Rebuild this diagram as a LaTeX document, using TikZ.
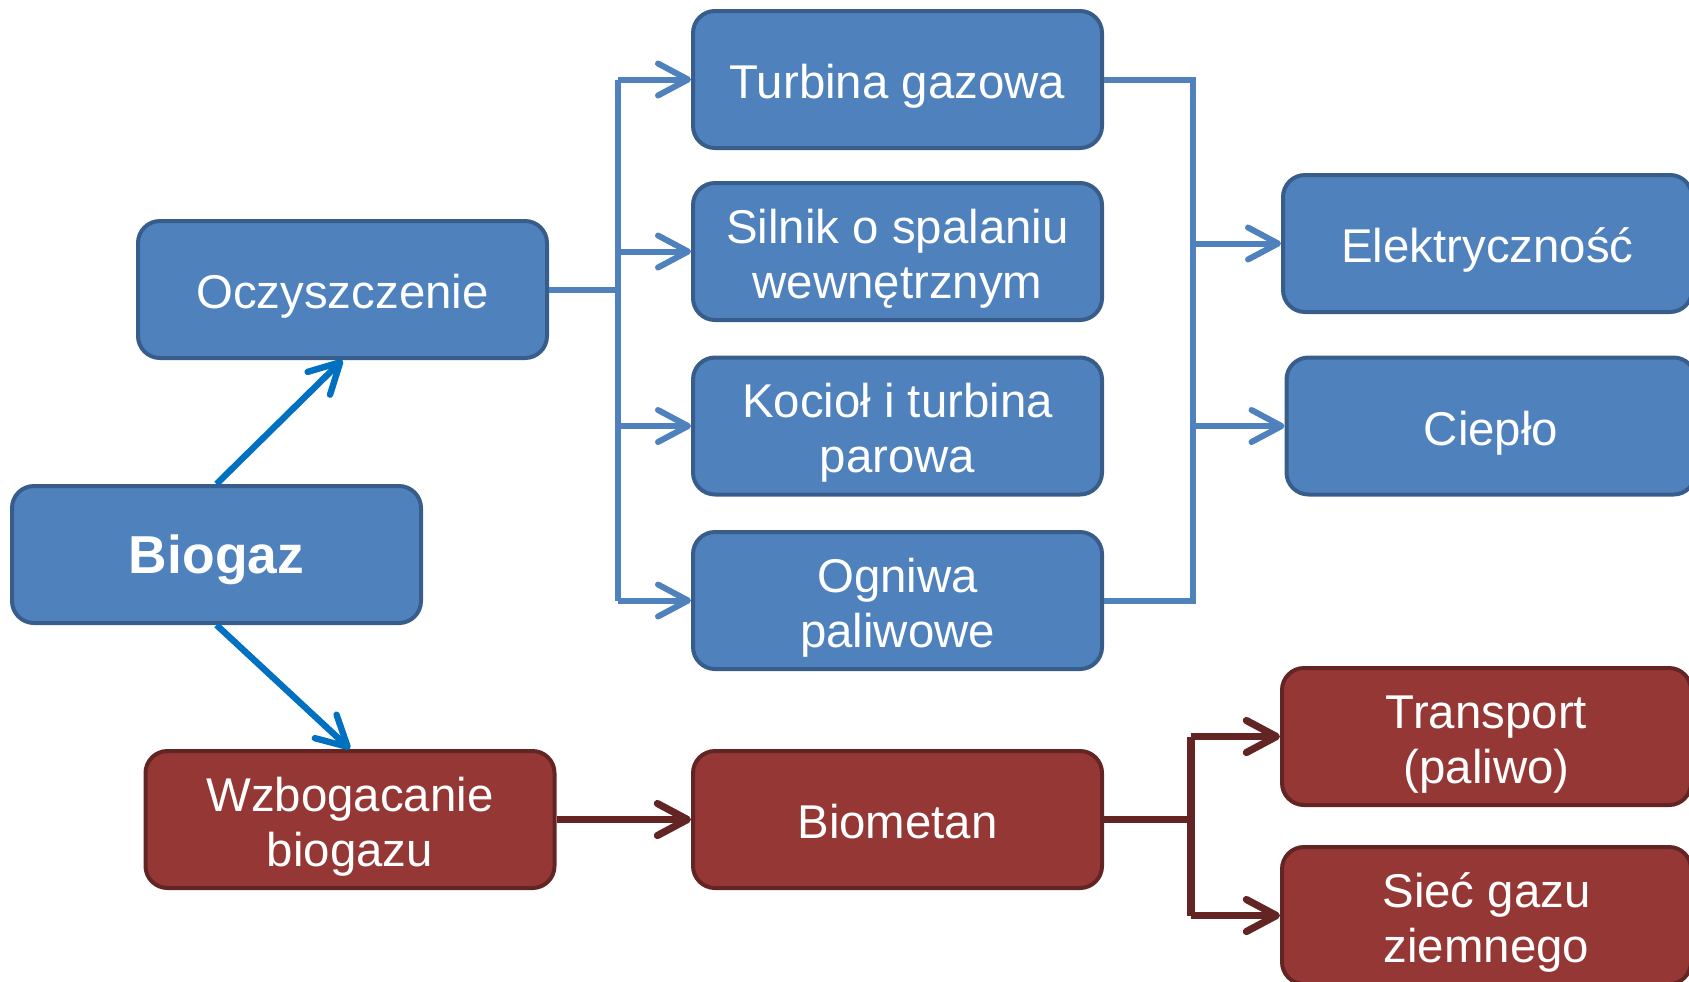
\documentclass[tikz,border=0pt]{standalone}
\usepackage{fontspec}
\setmainfont{Liberation Sans}
\usetikzlibrary{arrows.meta,positioning}
\definecolor{BoxBlue}{RGB}{79,129,189}
\definecolor{EdgeBlue}{RGB}{56,93,138}
\definecolor{BoxRed}{RGB}{149,55,53}
\definecolor{EdgeRed}{RGB}{99,37,35}
\definecolor{BrightBlue}{RGB}{0,112,192}
\tikzset{
  stage/.style={rectangle, rounded corners=11pt, line width=2pt, draw=EdgeBlue, fill=BoxBlue,
    text=white, align=flush center, text width=200pt, minimum width=204.5pt, minimum height=68.5pt, inner sep=2pt,
    font=\fontsize{23.7}{27.5}\selectfont,
    execute at begin node={\rule{0pt}{25pt}},
    execute at end node={\rule[-6pt]{0pt}{6pt}}},
  redstage/.style={stage, draw=EdgeRed, fill=BoxRed},
  tip/.style={-{Straight Barb[length=15pt,width=16pt,round]}},
  blueline/.style={line width=3pt, draw=BoxBlue},
  redline/.style={line width=3.6pt, draw=EdgeRed},
}
\begin{document}
\begin{tikzpicture}[x=0.5pt, y=-0.5pt]
\useasboundingbox (0,0) rectangle (1689,981);
\clip (0,0) rectangle (1689,981);
% source and the two treatments
\node[stage, font=\fontsize{26.7}{30}\selectfont\bfseries] (biogaz) at (216.5,554.5) {Biogaz};
\node[stage] (oczy) at (342.5,289.5) {Oczyszczenie};
\node[redstage] (wzbog) at (350,819.5) {Wzbogacanie\\biogazu};
% conversion
\node[stage] (turbina) at (897.5,79.5) {Turbina gazowa};
\node[stage] (silnik) at (897.5,251.5) {Silnik o spalaniu\\wewnętrznym};
\node[stage] (kociol) at (897.5,426) {Kocioł i turbina\\parowa};
\node[stage] (ogniwa) at (897.5,600.5) {Ogniwa\\paliwowe};
\node[redstage] (biometan) at (897.5,819.5) {Biometan};
% products
\node[stage] (elek) at (1487.5,243.5) {Elektryczność};
\node[stage] (cieplo) at (1491,426) {Ciepło};
\node[redstage] (transport) at (1486.5,736.5) {Transport\\(paliwo)};
\node[redstage] (siec) at (1486.5,915.5) {Sieć gazu\\ziemnego};

\coordinate (splitA) at (618,0);
\coordinate (splitB) at (1193,0);
\coordinate (splitC) at (1191,0);

\draw[tip, line width=3.2pt, BrightBlue] (biogaz.north) -- (oczy.south);
\draw[tip, line width=3.2pt, BrightBlue] (biogaz.south) -- (wzbog.north);

\draw[blueline] (oczy.east) -- (oczy.east -| splitA);
\draw[blueline] (turbina -| splitA) -- (ogniwa -| splitA);
\foreach \n in {turbina,silnik,kociol,ogniwa}
  \draw[blueline, tip] (\n -| splitA) -- (\n.west);

\draw[blueline] (turbina.east) -- (turbina.east -| splitB) -- (ogniwa.east -| splitB) -- (ogniwa.east);
\foreach \n in {elek,cieplo}
  \draw[blueline, tip] (\n -| splitB) -- (\n.west);

\draw[redline, tip] (wzbog.east) -- (biometan.west);
\draw[redline] (biometan.east) -- (biometan.east -| splitC);
\draw[redline] (transport -| splitC) -- (siec -| splitC);
\foreach \n in {transport,siec}
  \draw[redline, tip] (\n -| splitC) -- (\n.west);
\end{tikzpicture}
\end{document}
